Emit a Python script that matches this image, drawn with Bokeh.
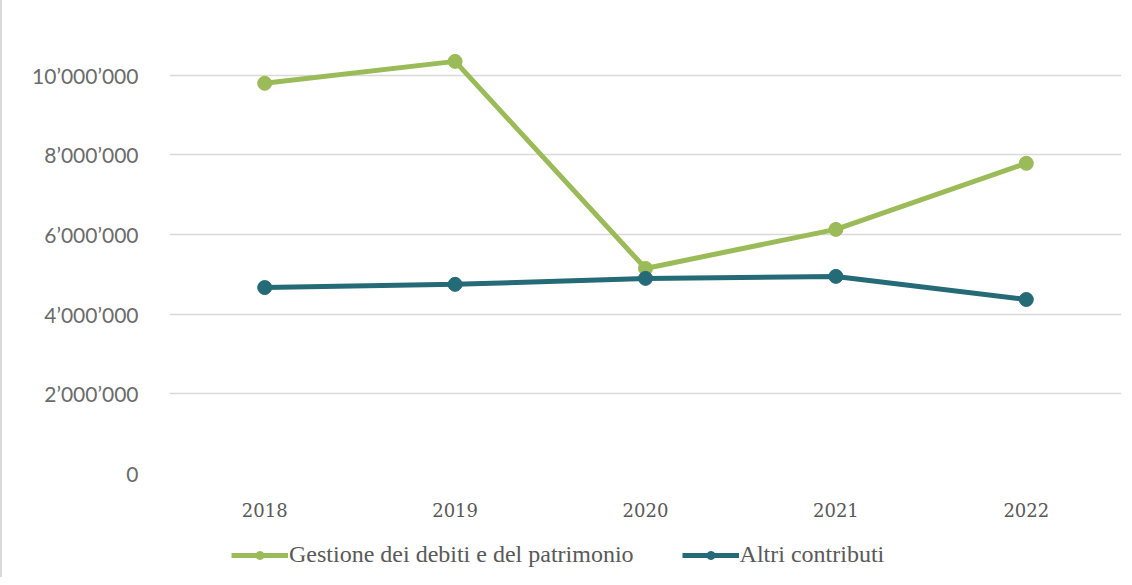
from bokeh.plotting import figure
from bokeh.layouts import column
from bokeh.models import ColumnDataSource, Legend, LegendItem, CustomJSTickFormatter, Range1d
from bokeh.embed import file_html
from bokeh.resources import INLINE

years = ["2018", "2019", "2020", "2021", "2022"]
gestione = [9800000, 10350000, 5150000, 6130000, 7790000]
altri = [4670000, 4750000, 4900000, 4950000, 4370000]
y_ticks = [0, 2000000, 4000000, 6000000, 8000000, 10000000]
series_names = ["Gestione dei debiti e del patrimonio", "Altri contributi"]

GREEN = "#9BBB59"
BLUE = "#256A77"

src = ColumnDataSource(dict(x=years, g=gestione, a=altri))

p = figure(frame_width=950, frame_height=438, x_range=years, y_range=Range1d(0, 11000000),
           output_backend="svg", toolbar_location=None,
           min_border_left=167, min_border_right=8, min_border_top=35, min_border_bottom=50)
p.outline_line_color = None
p.background_fill_color = "white"
p.styles = {"border-left": "2px solid #D9D9D9"}

p.line("x", "g", source=src, line_color=GREEN, line_width=5)
p.scatter("x", "g", source=src, size=14, fill_color=GREEN, line_color=GREEN)
p.line("x", "a", source=src, line_color=BLUE, line_width=5)
p.scatter("x", "a", source=src, size=14, fill_color=BLUE, line_color=BLUE)

p.yaxis.ticker = y_ticks
p.yaxis.formatter = CustomJSTickFormatter(code="""
var s = Math.round(tick).toString();
return s.replace(/\\B(?=(\\d{3})+(?!\\d))/g, "\u2019");
""")
p.yaxis.axis_line_color = None
p.yaxis.major_tick_line_color = None
p.yaxis.minor_tick_line_color = None
p.yaxis.major_label_text_font = "Lato"
p.yaxis.major_label_text_font_size = "21px"
p.yaxis.major_label_text_color = "#6B6B6B"
p.yaxis.major_label_standoff = 25

p.xaxis.axis_line_color = None
p.xaxis.major_tick_line_color = None
p.xaxis.major_label_text_font = "DejaVu Serif"
p.xaxis.major_label_text_font_size = "18px"
p.xaxis.major_label_text_color = "#595959"
p.xaxis.major_label_standoff = 23

p.xgrid.grid_line_color = None
p.ygrid.grid_line_color = "#D9D9D9"
p.ygrid.grid_line_width = 1.5

# legend strip below the chart (proxy renderers sit outside the visible range)
lf = figure(width=1125, height=54, x_range=Range1d(0, 1), y_range=Range1d(0, 1),
            output_backend="svg", toolbar_location=None,
            x_axis_location=None, y_axis_location=None,
            min_border_left=0, min_border_right=0, min_border_top=0, min_border_bottom=0)
lf.outline_line_color = None
lf.xgrid.visible = False
lf.ygrid.visible = False
lf.styles = {"border-left": "2px solid #D9D9D9"}

proxy = ColumnDataSource(dict(x=[-5, -6], y=[-5, -6]))
lg1 = lf.line("x", "y", source=proxy, line_color=GREEN, line_width=5)
sg1 = lf.scatter("x", "y", source=proxy, size=14, fill_color=GREEN, line_color=GREEN)
lb1 = lf.line("x", "y", source=proxy, line_color=BLUE, line_width=5)
sb1 = lf.scatter("x", "y", source=proxy, size=14, fill_color=BLUE, line_color=BLUE)

legend = Legend(items=[LegendItem(label=series_names[0], renderers=[lg1, sg1]),
                       LegendItem(label=series_names[1], renderers=[lb1, sb1])],
                orientation="horizontal", location=(62, 9),
                label_text_font="Liberation Serif", label_text_font_size="24px",
                label_text_color="#595959", glyph_width=57, glyph_height=20,
                label_standoff=1, spacing=48, border_line_color=None,
                background_fill_alpha=0, margin=0, padding=6)
lf.add_layout(legend)

layout = column(p, lf, spacing=0)
open("out.html", "w").write(file_html(layout, INLINE))
